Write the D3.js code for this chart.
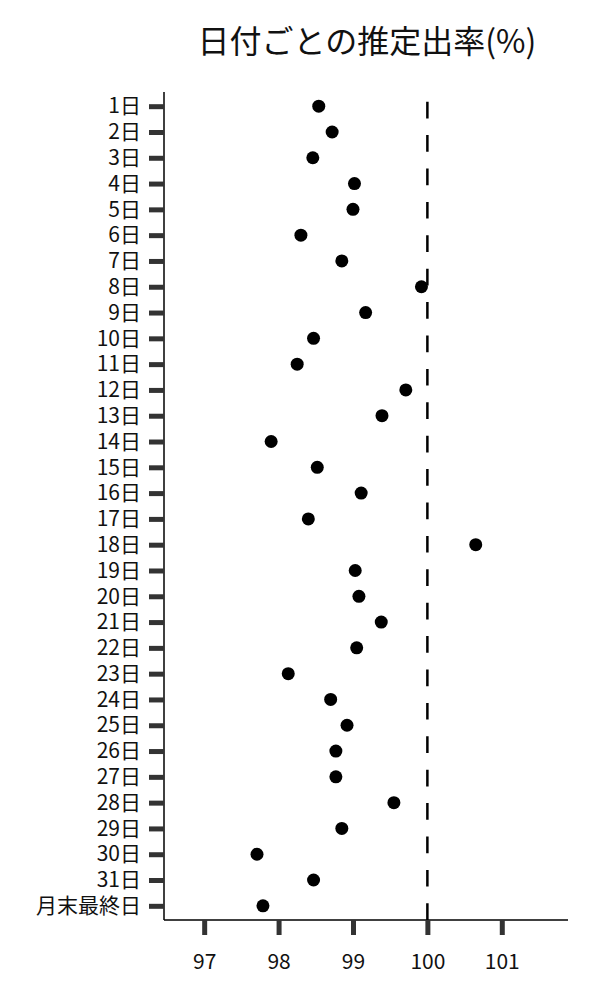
<!DOCTYPE html>
<html>
<head>
<meta charset="utf-8">
<script src="https://cdn.jsdelivr.net/npm/d3@7"></script>
<style>
  body { margin: 0; background: #fff; }
  svg text { font-family: "Noto Sans CJK JP", "Noto Sans", sans-serif; }
</style>
</head>
<body>
<svg id="chart" width="600" height="1000"></svg>
<script>
// days of the month, top to bottom
const days = [
  '1日', '2日', '3日', '4日', '5日', '6日', '7日', '8日', '9日', '10日',
  '11日', '12日', '13日', '14日', '15日', '16日', '17日', '18日', '19日', '20日',
  '21日', '22日', '23日', '24日', '25日', '26日', '27日', '28日', '29日', '30日',
  '31日', '月末最終日',
];

// estimated rate (%) per day
const rates = [
  98.54, 98.72, 98.46, 99.02, 99.00, 98.30, 98.85, 99.92, 99.17, 98.47,
  98.25, 99.71, 99.39, 97.90, 98.52, 99.11, 98.40, 100.65, 99.03, 99.08,
  99.38, 99.05, 98.13, 98.70, 98.92, 98.77, 98.77, 99.55, 98.85, 97.71,
  98.47, 97.79,
];

const xTicks = [97, 98, 99, 100, 101];
const reference = 100;
const title = '日付ごとの推定出率(%)';

const svg = d3.select('#chart');
const plot = {left: 164, right: 568, top: 92, bottom: 920};

const x = d3.scaleLinear().domain([96.46, 101.89]).range([plot.left, plot.right]);
const y = d3.scalePoint().domain(days).range([plot.top, plot.bottom]).padding(0.55);

// title
svg.append('text')
  .attr('x', 367)
  .attr('y', 53)
  .attr('text-anchor', 'middle')
  .attr('font-size', 32)
  .attr('fill', '#111')
  .text(title);

// y axis
const yAxis = svg.append('g')
  .attr('transform', `translate(${plot.left},0)`)
  .call(d3.axisLeft(y).tickSize(15).tickSizeOuter(0).tickPadding(8));

// x axis
const xAxis = svg.append('g')
  .attr('transform', `translate(0,${plot.bottom})`)
  .call(d3.axisBottom(x).tickValues(xTicks).tickFormat(d3.format('d'))
    .tickSize(15).tickSizeOuter(0).tickPadding(19));

for (const ax of [yAxis, xAxis]) {
  ax.select('.domain').attr('stroke', '#000').attr('stroke-width', 1.5);
  ax.selectAll('.tick line').attr('stroke', '#333').attr('stroke-width', 5);
  ax.selectAll('.tick text')
    .attr('fill', '#111')
    .attr('font-size', 21)
    .style('font-family', '"Noto Sans CJK JP", "Noto Sans", sans-serif');
}
yAxis.select('.domain').attr('d', `M0,${plot.top}V${plot.bottom}`);
xAxis.select('.domain').attr('d', `M${plot.left},0H${plot.right}`);

// reference line at 100
svg.append('line')
  .attr('x1', x(reference)).attr('x2', x(reference))
  .attr('y1', plot.bottom).attr('y2', plot.top)
  .attr('stroke', '#000')
  .attr('stroke-width', 2.5)
  .attr('stroke-dasharray', '16.7,16.7');

// points
svg.append('g')
  .selectAll('circle')
  .data(days.map((d, i) => ({day: d, rate: rates[i]})))
  .join('circle')
  .attr('cx', d => x(d.rate))
  .attr('cy', d => y(d.day))
  .attr('r', 6.5)
  .attr('fill', '#000');
</script>
</body>
</html>
